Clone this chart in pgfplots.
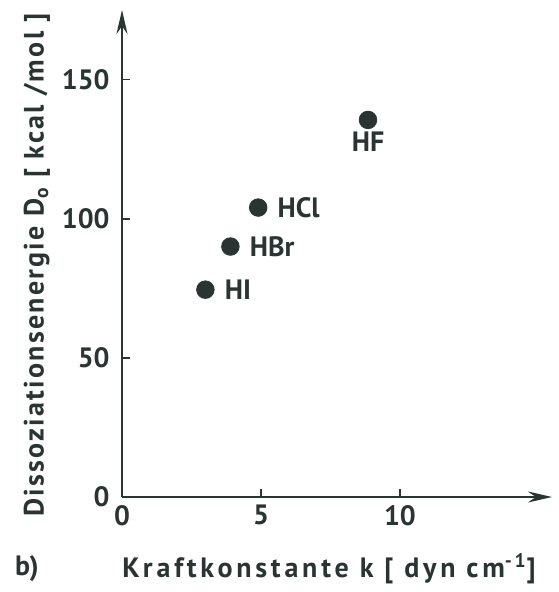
\documentclass[border=0pt]{standalone}
\usepackage{pgfplots}
\pgfplotsset{compat=1.18}
\usetikzlibrary{arrows.meta}
\usepackage{fontspec}
\setmainfont{PT Sans}
\definecolor{ink}{HTML}{2A3432}
\newcommand{\lblfont}{\fontsize{14}{16}\selectfont\bfseries}
\newfontfamily\xlab[LetterSpace=13.5]{PT Sans}
\newfontfamily\ylab[LetterSpace=8]{PT Sans}
\begin{document}
\begin{tikzpicture}
\useasboundingbox (-61pt,-47.5pt) rectangle (218pt,248.5pt);
\begin{axis}[
  scale only axis, width=215pt, height=243.5pt,
  xmin=0, xmax=15.47, ymin=0, ymax=175,
  axis lines=left,
  axis line style={ink, line width=1.1pt, -{Stealth[length=12pt,width=5.5pt]}},
  xtick={0,5,10}, ytick={0,50,100,150},
  tick align=inside, major tick length=4pt,
  tick style={ink, line width=0.8pt},
  /pgf/number format/assume math mode=true,
  tick label style={font=\lblfont, text=ink},
  xticklabel style={inner sep=0pt, anchor=north, yshift=-4pt},
  yticklabel style={inner sep=0pt, anchor=east, xshift=-6pt},
  clip=false,
]
\addplot[only marks, mark=*, mark size=4.4pt, ink,
  nodes near coords, point meta=explicit symbolic,
  nodes near coords style={anchor=west, inner sep=0pt, xshift=9.5pt, font=\lblfont, text=ink}]
  table[meta=label] {
x y label
4.9 104 HCl
3.9 90 HBr
3.0 74.5 HI
};
\addplot[only marks, mark=*, mark size=4.4pt, ink,
  nodes near coords, point meta=explicit symbolic,
  nodes near coords style={anchor=north, inner sep=0pt, yshift=-6pt, font=\lblfont, text=ink}]
  table[meta=label] {
x y label
8.85 135.5 HF
};
\end{axis}
\node[font=\xlab\fontsize{14}{16}\selectfont\bfseries, text=ink, anchor=west, inner sep=0pt] at (0pt,-36pt) {Kraftkonstante k [ dyn cm\textsuperscript{-1}]};
\node[font=\ylab\fontsize{14}{16}\selectfont\bfseries, text=ink, rotate=90, inner sep=0pt] at (-42.5pt,116pt) {Dissoziationsenergie D\textsubscript{o} [ kcal /mol ]};
\node[font=\lblfont, text=ink, inner sep=0pt] at (-47.5pt,-36pt) {b)};
\end{tikzpicture}
\end{document}
